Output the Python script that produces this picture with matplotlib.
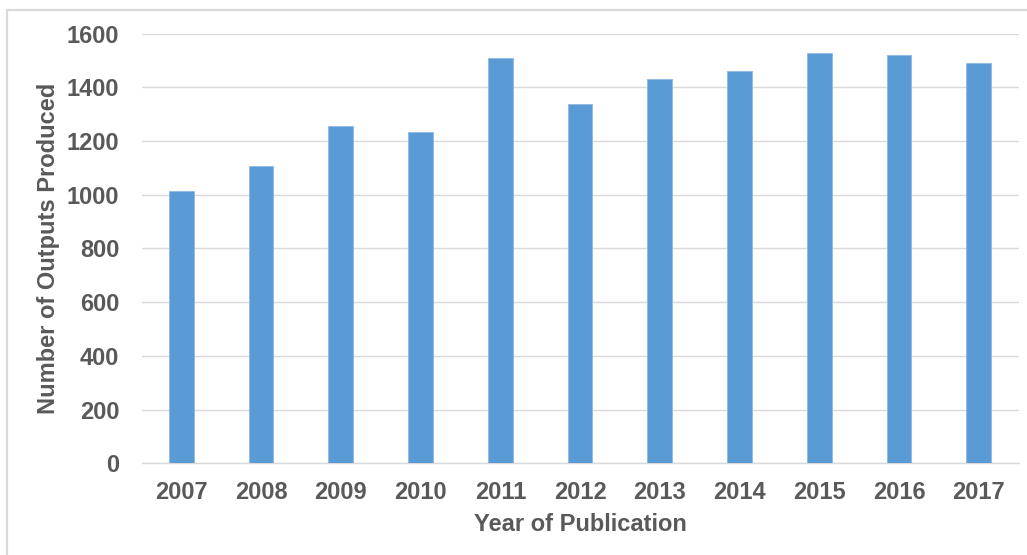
import matplotlib
matplotlib.use("Agg")
import matplotlib.pyplot as plt
from matplotlib.lines import Line2D

years = ["2007", "2008", "2009", "2010", "2011", "2012", "2013", "2014", "2015", "2016", "2017"]
outputs = [1013, 1105, 1256, 1235, 1509, 1336, 1431, 1462, 1528, 1520, 1491]
y_ticks = [0, 200, 400, 600, 800, 1000, 1200, 1400, 1600]

plt.rcParams['font.family'] = ['Liberation Sans', 'DejaVu Sans']
text_color = '#595959'

fig = plt.figure(figsize=(10.27, 5.55), dpi=100)
ax = fig.add_axes([0.1378, 0.1652, 0.8540, 0.7744])

x = list(range(len(years)))
ax.bar(x, outputs, width=0.31, color='#5B9BD5', edgecolor='#8DB9E6', linewidth=0.6, zorder=3)

ax.set_xlim(-0.5, len(years) - 0.5)
ax.set_ylim(0, 1600)
ax.set_yticks(y_ticks)
ax.set_yticklabels([str(v) for v in y_ticks])
ax.set_xticks(x)
ax.set_xticklabels(years)

ax.grid(axis='y', color='#D9D9D9', linewidth=1.0, zorder=0)
for s in ['top', 'right', 'left']:
    ax.spines[s].set_visible(False)
ax.spines['bottom'].set_color('#D9D9D9')
ax.spines['bottom'].set_linewidth(1.0)

ax.tick_params(axis='both', length=0, labelcolor=text_color, labelsize=17)
ax.tick_params(axis='y', pad=16)
ax.tick_params(axis='x', pad=13)
for lab in ax.get_xticklabels() + ax.get_yticklabels():
    lab.set_fontweight('bold')

ax.set_xlabel('Year of Publication', fontsize=17, fontweight='bold', color=text_color, labelpad=6)
ax.set_ylabel('Number of Outputs Produced', fontsize=17, fontweight='bold', color=text_color, labelpad=5)

# outer chart-area border (only top and left edges visible in the reference crop)
fig.lines.append(Line2D([7 / 1027, 7 / 1027], [0, 1 - 10 / 555], transform=fig.transFigure,
                        color='#D9D9D9', linewidth=1.6))
fig.lines.append(Line2D([7 / 1027, 1], [1 - 10 / 555, 1 - 10 / 555], transform=fig.transFigure,
                        color='#D9D9D9', linewidth=1.6))

fig.savefig('out.png', dpi=100)
